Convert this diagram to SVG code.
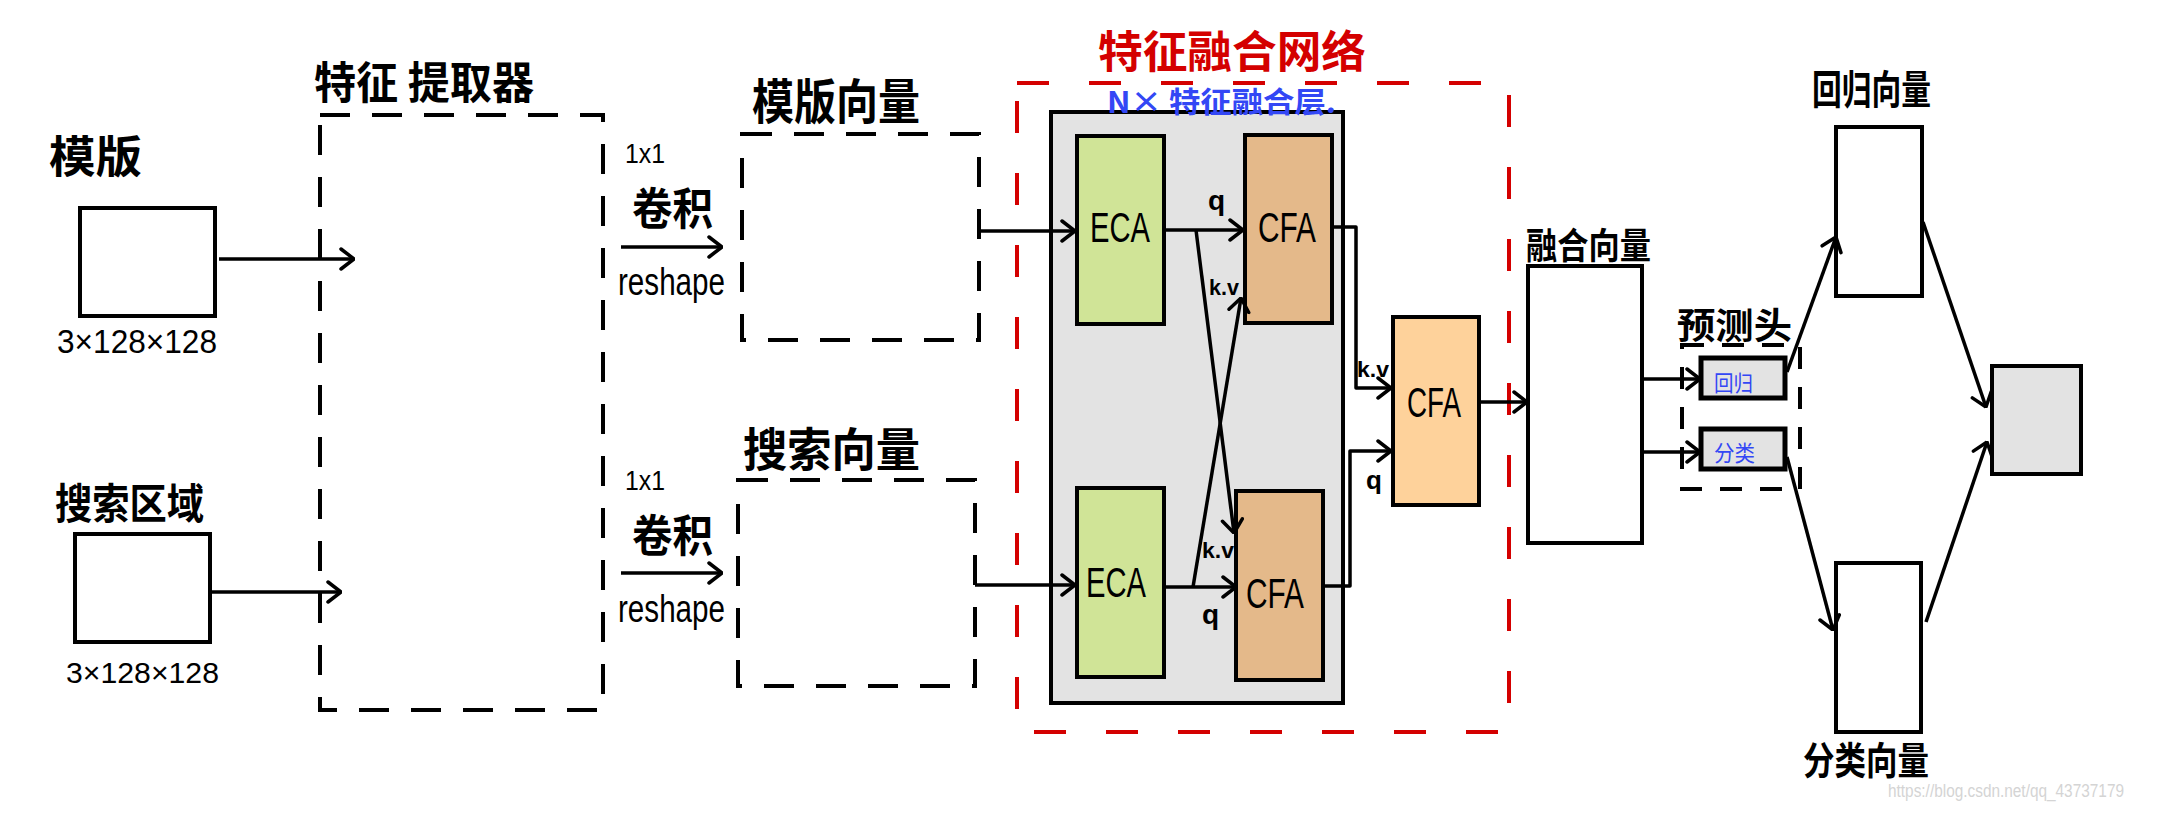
<svg xmlns="http://www.w3.org/2000/svg" width="2160" height="814" viewBox="0 0 2160 814">
<defs>
<style>
.box{fill:#ffffff;stroke:#000;stroke-width:4}
.gbox{fill:#e3e3e3;stroke:#000;stroke-width:4}
.dash{fill:none;stroke:#000;stroke-width:4;stroke-dasharray:30 22}
.rdash{fill:none;stroke:#d40000;stroke-width:4;stroke-dasharray:32 40}
.eca{fill:#d0e497;stroke:#000;stroke-width:4}
.cfa{fill:#e4b98a;stroke:#000;stroke-width:4}
.cfa2{fill:#fed29b;stroke:#000;stroke-width:4}
.ln{fill:none;stroke:#000;stroke-width:3.5;stroke-linejoin:round}
.arr{marker-end:url(#ah)}
.cn{font-family:"Noto Sans CJK SC","Noto Sans",sans-serif;font-weight:700;fill:#000}
.lt{font-family:"Liberation Sans","DejaVu Sans",sans-serif;fill:#000}
.mid{text-anchor:middle}
</style>
<marker id="ah" viewBox="0 0 16 24" refX="15" refY="12" markerWidth="16" markerHeight="24" markerUnits="userSpaceOnUse" orient="auto">
<path d="M2,2 L15,12 L2,22" fill="none" stroke="#000" stroke-width="3.5" stroke-linecap="round" stroke-linejoin="round"/>
</marker>
</defs>

<g id="template">
<text class="cn" x="49" y="173" font-size="44" textLength="93" lengthAdjust="spacingAndGlyphs">模版</text>
<rect class="box" x="80" y="208" width="135" height="108"/>
<text class="lt" x="57" y="353" font-size="34" textLength="160" lengthAdjust="spacingAndGlyphs">3×128×128</text>
</g>

<g id="search-region">
<text class="cn" x="55" y="519" font-size="42" textLength="149" lengthAdjust="spacingAndGlyphs">搜索区域</text>
<rect class="box" x="75" y="534" width="135" height="108"/>
<text class="lt" x="66" y="683" font-size="30" textLength="153" lengthAdjust="spacingAndGlyphs">3×128×128</text>
</g>

<g id="feature-extractor">
<text class="cn" x="314" y="99" font-size="44" textLength="220" lengthAdjust="spacingAndGlyphs">特征 提取器</text>
<rect class="dash" x="320" y="115" width="283" height="595"/>
</g>

<g id="conv-top">
<text class="lt" x="625" y="163" font-size="28" textLength="40" lengthAdjust="spacingAndGlyphs">1x1</text>
<text class="cn" x="632" y="225" font-size="44" textLength="81" lengthAdjust="spacingAndGlyphs">卷积</text>
<text class="lt" x="618" y="295" font-size="38" textLength="107" lengthAdjust="spacingAndGlyphs">reshape</text>
</g>

<g id="conv-bottom">
<text class="lt" x="625" y="490" font-size="28" textLength="40" lengthAdjust="spacingAndGlyphs">1x1</text>
<text class="cn" x="632" y="552" font-size="44" textLength="81" lengthAdjust="spacingAndGlyphs">卷积</text>
<text class="lt" x="618" y="622" font-size="38" textLength="107" lengthAdjust="spacingAndGlyphs">reshape</text>
</g>

<g id="template-vector">
<text class="cn" x="752" y="119" font-size="48" textLength="168" lengthAdjust="spacingAndGlyphs">模版向量</text>
<rect class="dash" x="742" y="134" width="237" height="206"/>
</g>

<g id="search-vector">
<text class="cn" x="743" y="466" font-size="46" textLength="177" lengthAdjust="spacingAndGlyphs">搜索向量</text>
<rect class="dash" x="738" y="480" width="237" height="206"/>
</g>

<g id="fusion-network">
<text class="cn" x="1098" y="68" font-size="44" textLength="268" lengthAdjust="spacingAndGlyphs" style="fill:#d40000">特征融合网络</text>
<rect class="rdash" x="1017" y="83" width="492" height="649"/>
</g>

<g id="fusion-layer">
<rect class="gbox" x="1051" y="112" width="292" height="591"/>
<text class="cn" x="1107" y="113" font-size="29" textLength="229" lengthAdjust="spacingAndGlyphs" style="fill:#3347f5">N× 特征融合层.</text>
</g>

<g id="eca-top">
<rect class="eca" x="1077" y="136" width="87" height="188"/>
<text class="lt mid" x="1120" y="242" font-size="42" textLength="60" lengthAdjust="spacingAndGlyphs">ECA</text>
</g>

<g id="eca-bottom">
<rect class="eca" x="1077" y="488" width="87" height="189"/>
<text class="lt mid" x="1116" y="597" font-size="42" textLength="60" lengthAdjust="spacingAndGlyphs">ECA</text>
</g>

<g id="cfa-top">
<rect class="cfa" x="1245" y="135" width="87" height="188"/>
<text class="lt mid" x="1287" y="242" font-size="42" textLength="58" lengthAdjust="spacingAndGlyphs">CFA</text>
</g>

<g id="cfa-bottom">
<rect class="cfa" x="1236" y="491" width="87" height="189"/>
<text class="lt mid" x="1275" y="608" font-size="42" textLength="58" lengthAdjust="spacingAndGlyphs">CFA</text>
</g>

<g id="cfa-final">
<rect class="cfa2" x="1393" y="317" width="86" height="188"/>
<text class="lt mid" x="1434" y="417" font-size="42" textLength="54" lengthAdjust="spacingAndGlyphs">CFA</text>
</g>

<g id="fusion-vector">
<text class="cn" x="1526" y="259" font-size="36" textLength="125" lengthAdjust="spacingAndGlyphs">融合向量</text>
<rect class="box" x="1528" y="266" width="114" height="277"/>
</g>

<g id="prediction-head">
<text class="cn" x="1677" y="339" font-size="36" textLength="115" lengthAdjust="spacingAndGlyphs">预测头</text>
<rect class="dash" x="1682" y="345" width="118" height="144" style="stroke-dasharray:22 18"/>
</g>

<g id="regression-head">
<rect class="gbox" x="1701" y="358" width="84" height="40" style="stroke-width:5"/>
<text class="cn" x="1714" y="391" font-size="22" textLength="39" lengthAdjust="spacingAndGlyphs" style="fill:#3347f5;font-weight:400">回归</text>
</g>

<g id="classification-head">
<rect class="gbox" x="1701" y="429" width="84" height="40" style="stroke-width:5"/>
<text class="cn" x="1714" y="461" font-size="22" textLength="41" lengthAdjust="spacingAndGlyphs" style="fill:#3347f5;font-weight:400">分类</text>
</g>

<g id="regression-vector">
<text class="cn" x="1812" y="104" font-size="40" textLength="119" lengthAdjust="spacingAndGlyphs">回归向量</text>
<rect class="box" x="1836" y="127" width="86" height="169"/>
</g>

<g id="classification-vector">
<rect class="box" x="1836" y="563" width="85" height="169"/>
<text class="cn" x="1803" y="774" font-size="38" textLength="126" lengthAdjust="spacingAndGlyphs">分类向量</text>
</g>

<g id="output">
<rect class="gbox" x="1992" y="366" width="89" height="108"/>
</g>

<g id="connectors">
<line class="ln arr" x1="219" y1="259" x2="354" y2="259"/>
<line class="ln arr" x1="211" y1="592" x2="341" y2="592"/>
<line class="ln arr" x1="621" y1="247" x2="722" y2="247"/>
<line class="ln arr" x1="621" y1="573" x2="722" y2="573"/>
<line class="ln arr" x1="979" y1="231" x2="1075" y2="231"/>
<line class="ln arr" x1="975" y1="585" x2="1075" y2="585"/>
<line class="ln arr" x1="1164" y1="230" x2="1243" y2="230"/>
<line class="ln arr" x1="1196" y1="230" x2="1234" y2="533"/>
<line class="ln arr" x1="1193" y1="587" x2="1241" y2="298"/>
<line class="ln arr" x1="1166" y1="587" x2="1236" y2="587"/>
<polyline class="ln arr" points="1332,227 1356,227 1356,388 1391,388"/>
<polyline class="ln arr" points="1323,586 1350,586 1350,451 1391,451"/>
<line class="ln arr" x1="1479" y1="402" x2="1527" y2="402"/>
<line class="ln arr" x1="1642" y1="379" x2="1700" y2="379"/>
<line class="ln arr" x1="1642" y1="452" x2="1700" y2="452"/>
<line class="ln arr" x1="1787" y1="372" x2="1836" y2="237"/>
<line class="ln arr" x1="1923" y1="222" x2="1986" y2="407"/>
<line class="ln arr" x1="1787" y1="457" x2="1833" y2="630"/>
<line class="ln arr" x1="1926" y1="622" x2="1987" y2="442"/>
<text class="lt" x="1208" y="210" font-size="28" font-weight="700">q</text>
<text class="lt" x="1202" y="624" font-size="28" font-weight="700">q</text>
<text class="lt" x="1366" y="489" font-size="26" font-weight="700">q</text>
<text class="lt" x="1209" y="295" font-size="22" font-weight="700" textLength="30" lengthAdjust="spacingAndGlyphs">k.v</text>
<text class="lt" x="1202" y="558" font-size="22" font-weight="700" textLength="32" lengthAdjust="spacingAndGlyphs">k.v</text>
<text class="lt" x="1357" y="377" font-size="22" font-weight="700" textLength="32" lengthAdjust="spacingAndGlyphs">k.v</text>
</g>

<text x="1888" y="797" font-family="Liberation Sans, sans-serif" font-size="18" fill="#d4d4d4" textLength="236" lengthAdjust="spacingAndGlyphs">https://blog.csdn.net/qq_43737179</text>
</svg>
